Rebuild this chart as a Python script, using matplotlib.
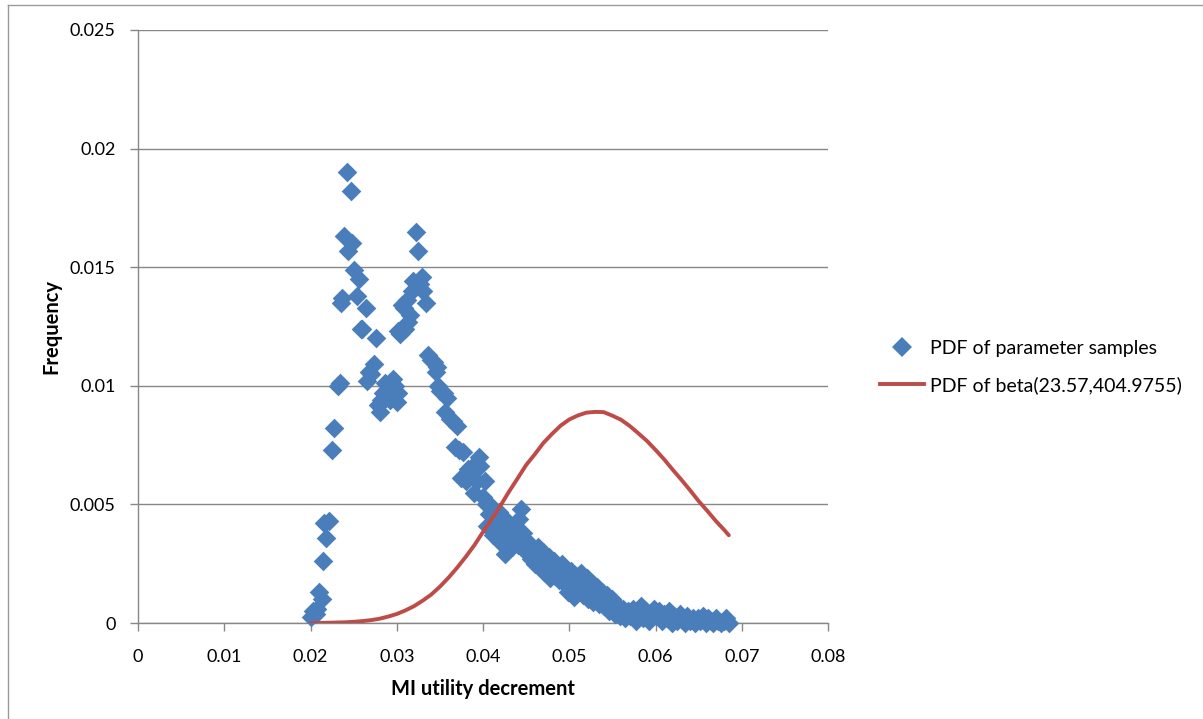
import matplotlib
matplotlib.use("Agg")
import matplotlib.pyplot as plt
from matplotlib.lines import Line2D

plt.rcParams['font.family'] = ['Lato', 'DejaVu Sans']

# ---- data: PDF of parameter samples ----
sample_x = [
    0.0201, 0.0203, 0.0206, 0.0208, 0.0210, 0.0213, 0.0215, 0.0218, 0.0216, 0.0221,
    0.0225, 0.0227, 0.0232, 0.0234, 0.0235, 0.0237, 0.0239, 0.0242, 0.0243, 0.0247,
    0.0248, 0.0250, 0.0254, 0.0256, 0.0258, 0.0260, 0.0264, 0.0266, 0.0268, 0.0270,
    0.0274, 0.0276, 0.0278, 0.0280, 0.0282, 0.0284, 0.0286, 0.0288, 0.0290, 0.0292,
    0.0294, 0.0296, 0.0298, 0.0300, 0.0301, 0.0302, 0.0304, 0.0306, 0.0308, 0.0310,
    0.0312, 0.0313, 0.0315, 0.0318, 0.0319, 0.0322, 0.0325, 0.0327, 0.0329, 0.0330,
    0.0334, 0.0336, 0.0340, 0.0343, 0.0345, 0.0347, 0.0348, 0.0350, 0.0355, 0.0356,
    0.0358, 0.0362, 0.0365, 0.0367, 0.0370, 0.0372, 0.0374, 0.0377, 0.0380, 0.0383,
    0.0386, 0.0388, 0.0390, 0.0393, 0.0395, 0.0397, 0.0400, 0.0402, 0.0404,
    0.0405, 0.0407, 0.0410, 0.0412, 0.0414, 0.0416, 0.0418, 0.0420, 0.0422, 0.0424,
    0.0426, 0.0428, 0.0430, 0.0432, 0.0434, 0.0436, 0.0438, 0.0440, 0.0442, 0.0444,
    0.0446, 0.0448, 0.0450, 0.0452, 0.0454, 0.0456, 0.0458, 0.0460, 0.0462, 0.0464,
    0.0466, 0.0468, 0.0470, 0.0472, 0.0474, 0.0476, 0.0478, 0.0480, 0.0482, 0.0484,
    0.0486, 0.0488, 0.0490, 0.0492, 0.0494, 0.0496, 0.0498, 0.0500, 0.0502, 0.0504,
    0.0506, 0.0508, 0.0510, 0.0512, 0.0514, 0.0516, 0.0518, 0.0520, 0.0522, 0.0524,
    0.0526, 0.0528, 0.0530, 0.0532, 0.0534, 0.0536, 0.0538, 0.0540, 0.0542, 0.0544,
    0.0546, 0.0548, 0.0550, 0.0553, 0.0556, 0.0559, 0.0562, 0.0565, 0.0568, 0.0571,
    0.0574, 0.0577, 0.0580, 0.0583, 0.0586, 0.0589, 0.0592, 0.0595, 0.0598, 0.0601,
    0.0604, 0.0607, 0.0610, 0.0613, 0.0616, 0.0619, 0.0622, 0.0625, 0.0628, 0.0631,
    0.0634, 0.0637, 0.0640, 0.0643, 0.0646, 0.0649, 0.0652, 0.0655, 0.0658, 0.0661,
    0.0664, 0.0667, 0.0670, 0.0673, 0.0676, 0.0679, 0.0682, 0.0685,
]
sample_y = [
    0.00025, 0.0005, 0.0004, 0.0006, 0.0013, 0.0010, 0.0026, 0.0036, 0.0042, 0.0043,
    0.0073, 0.0082, 0.0100, 0.0101, 0.0135, 0.0137, 0.0163, 0.0190, 0.0157, 0.0182,
    0.0160, 0.0149, 0.0138, 0.0145, 0.0124, 0.0124, 0.0133, 0.0102, 0.0106, 0.0105,
    0.0109, 0.0120, 0.0092, 0.0089, 0.0094, 0.0097, 0.0101, 0.0095, 0.0099, 0.0094,
    0.0096, 0.0103, 0.0100, 0.0093, 0.0123, 0.0097, 0.0122, 0.0134, 0.0133, 0.0124,
    0.0136, 0.0127, 0.0130, 0.0140, 0.0144, 0.0165, 0.0157, 0.0143, 0.0146, 0.0140,
    0.0135, 0.0113, 0.0111, 0.0110, 0.0106, 0.0108, 0.0100, 0.0098, 0.0097, 0.0089,
    0.0095, 0.0086, 0.0085, 0.0074, 0.0083, 0.0073, 0.0061, 0.0072, 0.0060, 0.0065,
    0.0063, 0.0066, 0.0055, 0.0060, 0.0070, 0.0066, 0.0053, 0.0060, 0.0050,
    0.0041, 0.0046, 0.0049, 0.0037, 0.0044, 0.0040, 0.0047, 0.0034, 0.0041, 0.0036,
    0.0029, 0.0043, 0.0035, 0.0039, 0.0032, 0.0037, 0.0040, 0.0033, 0.0044, 0.0048,
    0.0038, 0.0031, 0.0035, 0.0029, 0.0033, 0.0027, 0.0031, 0.0025, 0.0029, 0.0032,
    0.0023, 0.0027, 0.0030, 0.0021, 0.0025, 0.0028, 0.0019, 0.0023, 0.0026, 0.0020,
    0.0024, 0.0018, 0.0022, 0.0025, 0.0017, 0.0021, 0.0013, 0.0019, 0.0022, 0.0016,
    0.0011, 0.0020, 0.0014, 0.0018, 0.0021, 0.0012, 0.0016, 0.0019, 0.0010, 0.0014,
    0.0017, 0.0009, 0.0013, 0.0015, 0.0008, 0.0011, 0.0013, 0.0007, 0.0010, 0.0012,
    0.0005, 0.0008, 0.0010, 0.0004, 0.0007, 0.0003, 0.0006, 0.0002, 0.0005, 0.0003,
    0.0006, 0.0001, 0.0004, 0.0007, 0.0002, 0.0005, 0.0001, 0.0004, 0.0006, 0.0003,
    0.0005, 0.0001, 0.0004, 0.0002, 0.0005, 0.0000, 0.0003, 0.0001, 0.0004, 0.0002,
    0.0000, 0.0003, 0.0001, 0.0002, 0.0000, 0.0002, 0.0001, 0.0003, 0.0000, 0.0002,
    0.0001, 0.0000, 0.0002, 0.0001, 0.0000, 0.0001, 0.0002, 0.0000,
]

# ---- data: PDF of beta(23.57, 404.9755) curve ----
beta_x = [0.020, 0.021, 0.022, 0.023, 0.024, 0.025, 0.026, 0.027, 0.028, 0.029,
          0.030, 0.031, 0.032, 0.033, 0.034, 0.035, 0.036, 0.037, 0.038, 0.039,
          0.040, 0.041, 0.042, 0.043, 0.044, 0.045, 0.046, 0.047, 0.048, 0.049,
          0.050, 0.051, 0.052, 0.053, 0.054, 0.055, 0.056, 0.057, 0.058, 0.059,
          0.060, 0.061, 0.062, 0.063, 0.064, 0.065, 0.066, 0.067, 0.068, 0.0685]
beta_y = [0.000000, 0.000005, 0.00001, 0.00002, 0.00003, 0.00005, 0.00008, 0.00012,
          0.00018, 0.00027, 0.00038, 0.00053, 0.00071, 0.00094, 0.00120, 0.00153,
          0.00191, 0.00233, 0.00279, 0.00328, 0.00384, 0.00438, 0.00493, 0.00553,
          0.00609, 0.00666, 0.00711, 0.00759, 0.00797, 0.00832, 0.00858, 0.00875,
          0.00887, 0.00890, 0.00889, 0.00874, 0.00857, 0.00831, 0.00800, 0.00768,
          0.00730, 0.00690, 0.00646, 0.00604, 0.00560, 0.00514, 0.00473, 0.00430,
          0.00391, 0.00370]

x_ticks = [0, 0.01, 0.02, 0.03, 0.04, 0.05, 0.06, 0.07, 0.08]
x_tick_labels = ['0', '0.01', '0.02', '0.03', '0.04', '0.05', '0.06', '0.07', '0.08']
y_ticks = [0, 0.005, 0.01, 0.015, 0.02, 0.025]
y_tick_labels = ['0', '0.005', '0.01', '0.015', '0.02', '0.025']

BLUE = '#4A7EBB'
RED = '#BE4B48'
GRID = '#878787'

W, H = 1203, 719
fig = plt.figure(figsize=(W / 100, H / 100), dpi=100)
ax = fig.add_axes([138 / W, 1 - 623 / H, (828 - 138) / W, (623 - 30) / H])

ax.scatter(sample_x, sample_y, marker='D', s=100, color=BLUE, linewidths=0,
           zorder=3, clip_on=False)
ax.plot(beta_x, beta_y, color=RED, lw=2.8, zorder=4, solid_capstyle='round',
        solid_joinstyle='round')

ax.set_xlim(0, 0.08)
ax.set_ylim(0, 0.025)
ax.set_xticks(x_ticks)
ax.set_xticklabels(x_tick_labels)
ax.set_yticks(y_ticks)
ax.set_yticklabels(y_tick_labels)

for s in ['top', 'right']:
    ax.spines[s].set_visible(False)
for s in ['left', 'bottom']:
    ax.spines[s].set_color(GRID)
    ax.spines[s].set_linewidth(1.0)
ax.yaxis.grid(True, color=GRID, lw=1.0)
ax.set_axisbelow(True)
ax.tick_params(axis='both', colors=GRID, length=6, width=1.0, labelcolor='black',
               labelsize=13)
ax.tick_params(axis='x', pad=13)
ax.tick_params(axis='y', pad=10)

ax.set_xlabel('MI utility decrement', fontsize=14.5, fontweight='bold', labelpad=10)
ax.set_ylabel('Frequency', fontsize=14.5, fontweight='bold', labelpad=6)

handles = [
    Line2D([], [], marker='D', color=BLUE, linestyle='None', markersize=10,
           markeredgewidth=0),
    Line2D([], [], color=RED, lw=2.8),
]
labels = ['PDF of parameter samples', 'PDF of beta(23.57,404.9755)']
fig.legend(handles, labels, loc='center left',
           bbox_to_anchor=(862 / W, 1 - 367 / H), frameon=False, fontsize=14,
           handlelength=2.3, handletextpad=0.3, labelspacing=1.0)

# outer chart border
fig.add_artist(Line2D([8 / W, 8 / W], [0, 1 - 5 / H], color='#9a9a9a', lw=1.0,
                      transform=fig.transFigure))
fig.add_artist(Line2D([8 / W, 1], [1 - 5 / H, 1 - 5 / H], color='#9a9a9a', lw=1.0,
                      transform=fig.transFigure))

fig.savefig('out.png', dpi=100)
